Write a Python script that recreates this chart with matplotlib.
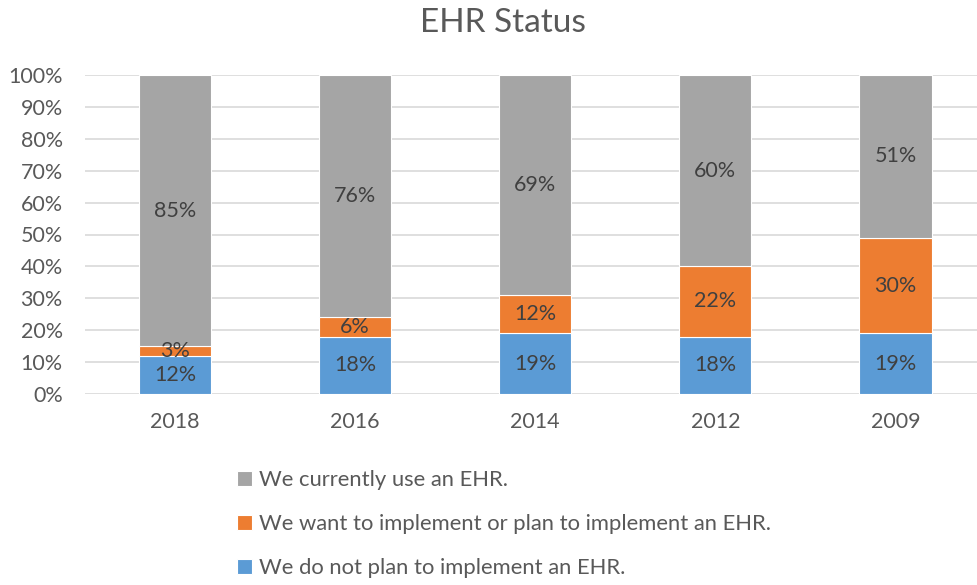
import matplotlib.pyplot as plt
import numpy as np

plt.rcParams['font.family'] = ['Lato', 'DejaVu Sans']

years = ['2018', '2016', '2014', '2012', '2009']
no_plan = [12, 18, 19, 18, 19]
want = [3, 6, 12, 22, 30]
use = [85, 76, 69, 60, 51]
labels = ['We do not plan to implement an EHR.',
          'We want to implement or plan to implement an EHR.',
          'We currently use an EHR.']
colors = ['#5B9BD5', '#ED7D31', '#A5A5A5']

fig = plt.figure(figsize=(9.77, 5.85), dpi=100)
ax = fig.add_axes([85 / 977, 1 - 394 / 585, 1 - 85 / 977, (394 - 75) / 585])

x = np.arange(len(years))
bottom = np.zeros(len(years))
bars = []
for vals, col, lab in zip([no_plan, want, use], colors, labels):
    b = ax.bar(x, vals, 0.4, bottom=bottom, color=col, edgecolor='white',
               linewidth=0.8, label=lab, zorder=3)
    bars.append(b)
    for xi, v, bt in zip(x, vals, bottom):
        ax.text(xi, bt + v / 2, f'{v}%', ha='center', va='center',
                fontsize=15.5, color='#404040', zorder=4)
    bottom += np.array(vals)

ax.set_xlim(-0.4997, 4.4525)
ax.set_ylim(0, 100)
ax.set_yticks(range(0, 101, 10))
ax.set_yticklabels([f'{v}%' for v in range(0, 101, 10)])
ax.set_xticks(x)
ax.set_xticklabels(years)
ax.tick_params(length=0, labelsize=15.5, labelcolor='#595959')
ax.tick_params(axis='x', pad=13)
ax.tick_params(axis='y', pad=16)
ax.grid(axis='y', color='#D9D9D9', linewidth=1.2, zorder=0)
for s in ax.spines.values():
    s.set_visible(False)

# title sits a little right of centre in the original
fig.text(503 / 977, 1 - 23 / 585, 'EHR Status', ha='center', va='center',
         fontsize=24, color='#595959')

fig.legend(handles=bars[::-1], labels=labels[::-1], loc='upper left',
           bbox_to_anchor=(237 / 977, 1 - 470 / 585), frameon=False,
           fontsize=15.8, labelcolor='#595959', handlelength=0.68,
           handleheight=0.68, handletextpad=0.3, labelspacing=1.1,
           borderpad=0, borderaxespad=0)

fig.savefig('out.png', dpi=100)
